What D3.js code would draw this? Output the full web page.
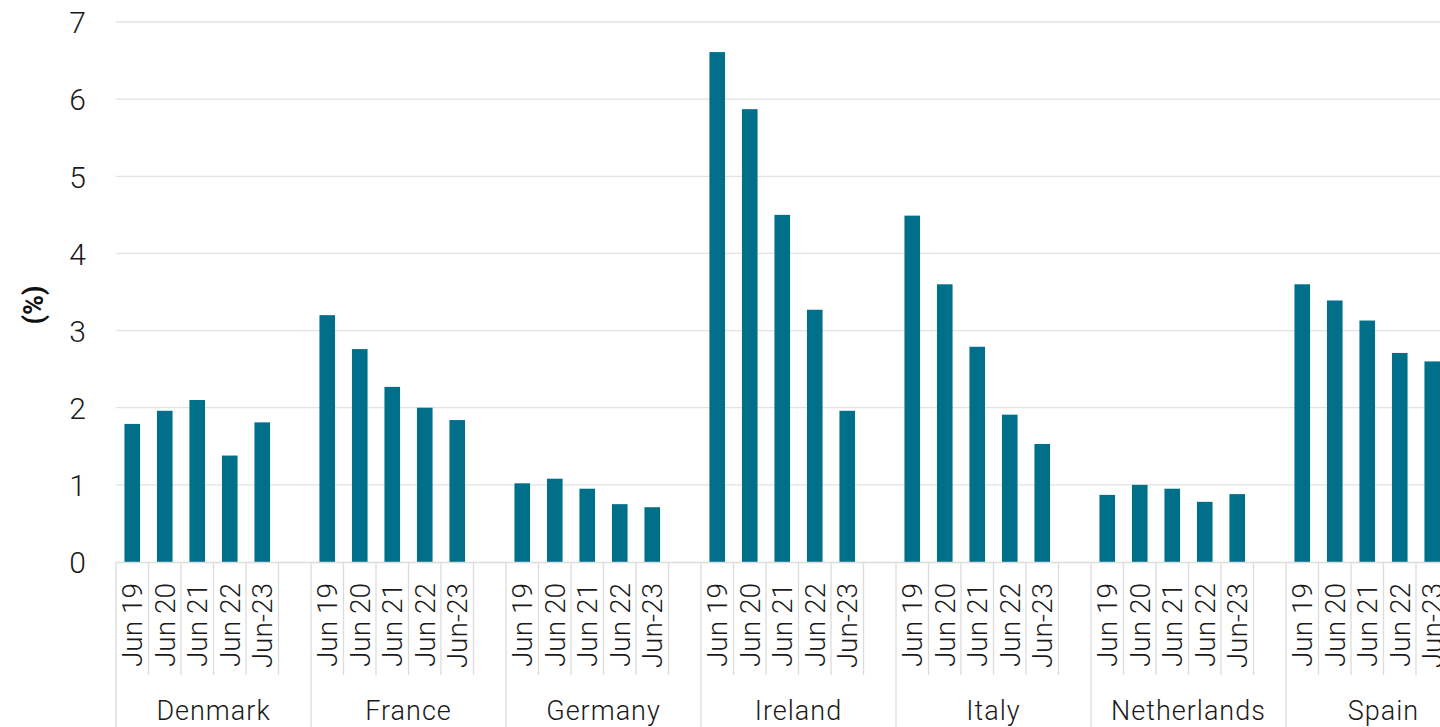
<!DOCTYPE html>
<html>
<head>
<meta charset="utf-8">
<script src="https://cdn.jsdelivr.net/npm/d3@7"></script>
<style>
  html, body { margin: 0; padding: 0; background: #fff; overflow: hidden; }
  svg { display: block; font-family: Roboto, "Liberation Sans", Arial, sans-serif; }
  .lbl { font-weight: 300; fill: #1a1a1a; }
</style>
</head>
<body>
<svg id="chart" width="1440" height="727"></svg>
<script>
// Countries shown, in order
const countries = ["Denmark", "France", "Germany", "Ireland", "Italy", "Netherlands", "Spain"];
// Period labels within each country
const periods = ["Jun 19", "Jun 20", "Jun 21", "Jun 22", "Jun-23"];
// Values (%) per country, one per period
const denmark     = [1.79, 1.96, 2.10, 1.38, 1.81];
const france      = [3.20, 2.76, 2.27, 2.00, 1.84];
const germany     = [1.02, 1.08, 0.95, 0.75, 0.71];
const ireland     = [6.61, 5.87, 4.50, 3.27, 1.96];
const italy       = [4.49, 3.60, 2.79, 1.91, 1.53];
const netherlands = [0.87, 1.00, 0.95, 0.78, 0.88];
const spain       = [3.60, 3.39, 3.13, 2.71, 2.60];
// Y axis ticks
const yTicks = [0, 1, 2, 3, 4, 5, 6, 7];

const seriesByCountry = [denmark, france, germany, ireland, italy, netherlands, spain];
const rows = [];
countries.forEach((c, i) => periods.forEach((p, j) => rows.push({ country: c, period: p, value: seriesByCountry[i][j] })));

const svg = d3.select("#chart");
const plotLeft = 116, plotTop = 22, plotBottom = 562;
const groupWidth = 195;
const barColor = "#006f8a";
const gridColor = "#e2e2e2";
const sepColor = "#dcdcdc";

const y = d3.scaleLinear().domain([0, 7]).range([plotBottom, plotTop]);

// One band per country; each band holds five period slots plus one empty slot
const x0 = d3.scaleBand().domain(countries).range([plotLeft, plotLeft + groupWidth * countries.length]).padding(0);
const slotSpan = x0.bandwidth() * periods.length / (periods.length + 1);
const xSlot = d3.scaleBand().domain(periods).range([0, slotSpan]).padding(0);
const xBar = d3.scaleBand().domain(periods).range([0, slotSpan]).paddingInner(0.52).paddingOuter(0.26);

// Horizontal gridlines
svg.append("g")
  .selectAll("line")
  .data(yTicks.filter(t => t > 0))
  .join("line")
  .attr("x1", plotLeft).attr("x2", 1440)
  .attr("y1", d => y(d)).attr("y2", d => y(d))
  .attr("stroke", gridColor).attr("stroke-width", 1.3);

// Y axis tick labels
const yAxis = d3.axisLeft(y).tickValues(yTicks).tickSize(0).tickPadding(0).tickFormat(d3.format("d"));
svg.append("g")
  .attr("transform", `translate(86,0)`)
  .call(yAxis)
  .attr("font-family", null)
  .attr("font-size", null)
  .call(g => g.select(".domain").remove())
  .call(g => g.selectAll("text")
    .attr("class", "lbl")
    .attr("font-size", 30)
    .attr("dy", "0.36em"));

// Y axis title
svg.append("text")
  .attr("transform", "translate(43,305) rotate(-90)")
  .attr("text-anchor", "middle")
  .attr("font-size", 27)
  .attr("font-weight", "bold")
  .attr("fill", "#111")
  .text("(%)");

// Bars
svg.append("g")
  .selectAll("rect")
  .data(rows)
  .join("rect")
  .attr("x", d => x0(d.country) + xBar(d.period))
  .attr("width", xBar.bandwidth())
  .attr("y", d => y(d.value))
  .attr("height", d => y(0) - y(d.value))
  .attr("fill", barColor);

// Category axis: baseline, slot separators, group separators
const axisG = svg.append("g");
axisG.append("line")
  .attr("x1", plotLeft).attr("x2", 1440)
  .attr("y1", plotBottom + 0.5).attr("y2", plotBottom + 0.5)
  .attr("stroke", sepColor).attr("stroke-width", 1.3);

const slotEdges = [];
countries.forEach(c => {
  periods.forEach(p => slotEdges.push(x0(c) + xSlot(p) + xSlot.bandwidth()));
});
axisG.selectAll("line.slot")
  .data(slotEdges)
  .join("line")
  .attr("class", "slot")
  .attr("x1", d => d).attr("x2", d => d)
  .attr("y1", plotBottom).attr("y2", 675)
  .attr("stroke", sepColor).attr("stroke-width", 1.3);

axisG.selectAll("line.group")
  .data(countries)
  .join("line")
  .attr("class", "group")
  .attr("x1", d => x0(d)).attr("x2", d => x0(d))
  .attr("y1", plotBottom).attr("y2", 727)
  .attr("stroke", sepColor).attr("stroke-width", 1.3);

// Period labels, rotated
svg.append("g")
  .selectAll("text")
  .data(rows)
  .join("text")
  .attr("class", "lbl")
  .attr("transform", d => `translate(${x0(d.country) + xSlot(d.period) + xSlot.bandwidth() / 2 + 10},583) rotate(-90)`)
  .attr("text-anchor", "end")
  .attr("font-size", 28)
  .text(d => d.period);

// Country labels
svg.append("g")
  .selectAll("text")
  .data(countries)
  .join("text")
  .attr("class", "lbl")
  .attr("x", d => x0(d) + slotSpan / 2 + xSlot.bandwidth() / 2)
  .attr("y", 720)
  .attr("text-anchor", "middle")
  .attr("font-size", 27)
  .attr("letter-spacing", 1)
  .text(d => d);
</script>
</body>
</html>
